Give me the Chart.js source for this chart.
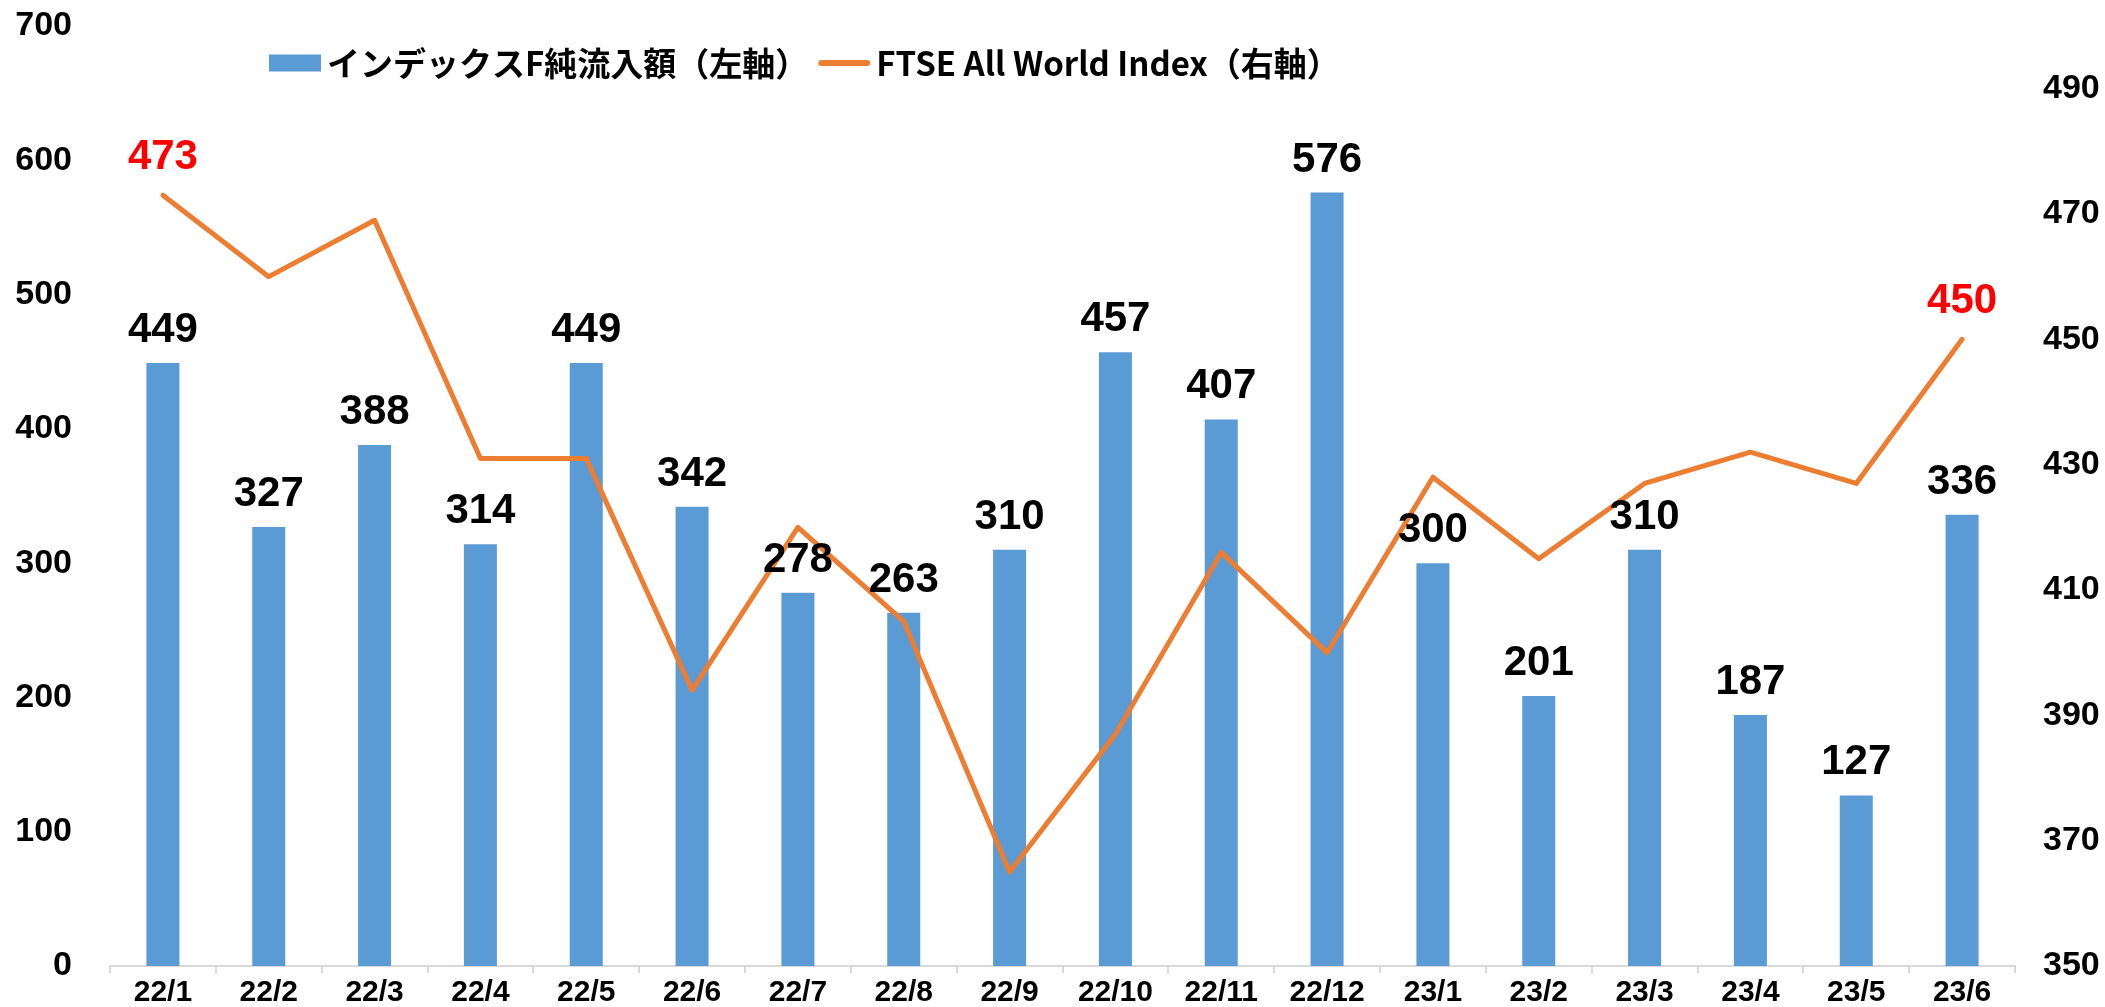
<!DOCTYPE html>
<html>
<head>
<meta charset="utf-8">
<script src="https://cdn.jsdelivr.net/npm/chart.js@4.4.0/dist/chart.umd.min.js"></script>
<style>
html,body{margin:0;padding:0;background:#ffffff;}
#wrap{width:2105px;height:1007px;position:relative;}
</style>
</head>
<body>
<div id="wrap"><canvas id="c"></canvas></div>
<script>
const categories = ['22/1','22/2','22/3','22/4','22/5','22/6','22/7','22/8','22/9','22/10','22/11','22/12','23/1','23/2','23/3','23/4','23/5','23/6'];
const inflowValues = [449,327,388,314,449,342,278,263,310,457,407,576,300,201,310,187,127,336];
const ftseValues = [473,460,469,431,431,394,420,405,365,387,416,400,428,415,427,432,427,450];
const ftseLabelIndexes = [0,17];
const seriesNames = ['インデックスF純流入額（左軸）','FTSE All World Index（右軸）'];
const leftTickValues = [0,100,200,300,400,500,600,700];
const rightTickValues = [350,370,390,410,430,450,470,490];
const leftRange = [0,700];
const rightRange = [350,500];

const BAR_COLOR = '#5B9BD5';
const LINE_COLOR = '#ED7D31';
const NUM_FONT = '"Liberation Sans", Arial, sans-serif';
const CJK_FONT = '"Noto Sans CJK JP", "Noto Sans", sans-serif';

const labelsPlugin = {
  id: 'valueLabels',
  afterDatasetsDraw(chart) {
    const ctx = chart.ctx;
    ctx.save();
    ctx.font = 'bold 42px ' + NUM_FONT;
    ctx.textAlign = 'center';
    ctx.textBaseline = 'alphabetic';
    const barMeta = chart.getDatasetMeta(0);
    barMeta.data.forEach((el, i) => {
      ctx.fillStyle = '#000000';
      ctx.fillText(String(inflowValues[i]), el.x, el.y - 21);
    });
    const lineMeta = chart.getDatasetMeta(1);
    ftseLabelIndexes.forEach(i => {
      const el = lineMeta.data[i];
      ctx.fillStyle = '#FF0000';
      ctx.fillText(String(ftseValues[i]), el.x, el.y - 26);
    });
    ctx.restore();
  },
  afterDraw(chart) {
    const ctx = chart.ctx;
    ctx.save();
    const cy = 63;
    let x = 269;
    ctx.font = 'bold 33px ' + CJK_FONT;
    ctx.textBaseline = 'middle';
    ctx.textAlign = 'left';
    ctx.fillStyle = BAR_COLOR;
    ctx.fillRect(x, cy - 8.5, 52, 17);
    x += 52 + 6;
    ctx.fillStyle = '#000000';
    ctx.fillText(seriesNames[0], x, cy);
    x += ctx.measureText(seriesNames[0]).width + 10;
    ctx.strokeStyle = LINE_COLOR;
    ctx.lineWidth = 6;
    ctx.lineCap = 'round';
    ctx.beginPath();
    ctx.moveTo(x + 3, cy);
    ctx.lineTo(x + 49, cy);
    ctx.stroke();
    x += 52 + 6;
    ctx.fillStyle = '#000000';
    ctx.fillText(seriesNames[1], x, cy);
    ctx.restore();
  }
};

function fixVertical(w) {
  return function (scale) {
    scale.width = w;
    scale.paddingTop = 0;
    scale.paddingBottom = 0;
  };
}

new Chart(document.getElementById('c'), {
  type: 'bar',
  data: {
    labels: categories,
    datasets: [
      {
        type: 'bar',
        label: seriesNames[0],
        data: inflowValues,
        backgroundColor: BAR_COLOR,
        borderWidth: 0,
        yAxisID: 'y',
        barPercentage: 0.312,
        categoryPercentage: 1.0,
        order: 1
      },
      {
        type: 'line',
        label: seriesNames[1],
        data: ftseValues,
        borderColor: LINE_COLOR,
        backgroundColor: LINE_COLOR,
        borderWidth: 5,
        borderJoinStyle: 'round',
        borderCapStyle: 'round',
        pointRadius: 0,
        pointHoverRadius: 0,
        tension: 0,
        fill: false,
        yAxisID: 'y1',
        order: 0
      }
    ]
  },
  options: {
    responsive: true,
    maintainAspectRatio: false,
    animation: false,
    layout: { padding: { top: 26, left: 15, right: 5, bottom: 0 } },
    plugins: {
      legend: { display: false },
      tooltip: { enabled: false },
      title: { display: false }
    },
    scales: {
      x: {
        type: 'category',
        offset: true,
        afterFit(scale) {
          scale.height = 41;
          scale.paddingLeft = 0;
          scale.paddingRight = 0;
        },
        grid: {
          display: true,
          drawOnChartArea: false,
          drawTicks: true,
          tickLength: 7,
          color: '#D9D9D9',
          lineWidth: 2,
          offset: true
        },
        border: { display: true, color: '#D9D9D9', width: 2 },
        ticks: {
          color: '#000000',
          font: { family: NUM_FONT, size: 30, weight: 'bold', lineHeight: 1 },
          padding: 5,
          maxRotation: 0,
          autoSkip: false
        }
      },
      y: {
        type: 'linear',
        position: 'left',
        min: leftRange[0],
        max: leftRange[1],
        grid: { display: false, drawTicks: false },
        border: { display: false },
        afterBuildTicks(axis) { axis.ticks = leftTickValues.map(v => ({ value: v })); },
        afterFit: fixVertical(95),
        ticks: {
          color: '#000000',
          font: { family: NUM_FONT, size: 34, weight: 'bold' },
          padding: 38
        }
      },
      y1: {
        type: 'linear',
        position: 'right',
        min: rightRange[0],
        max: rightRange[1],
        grid: { display: false, drawTicks: false },
        border: { display: false },
        afterBuildTicks(axis) { axis.ticks = rightTickValues.map(v => ({ value: v })); },
        afterFit: fixVertical(85),
        ticks: {
          color: '#000000',
          font: { family: NUM_FONT, size: 34, weight: 'bold' },
          padding: 28
        }
      }
    }
  },
  plugins: [labelsPlugin]
});
</script>
</body>
</html>
